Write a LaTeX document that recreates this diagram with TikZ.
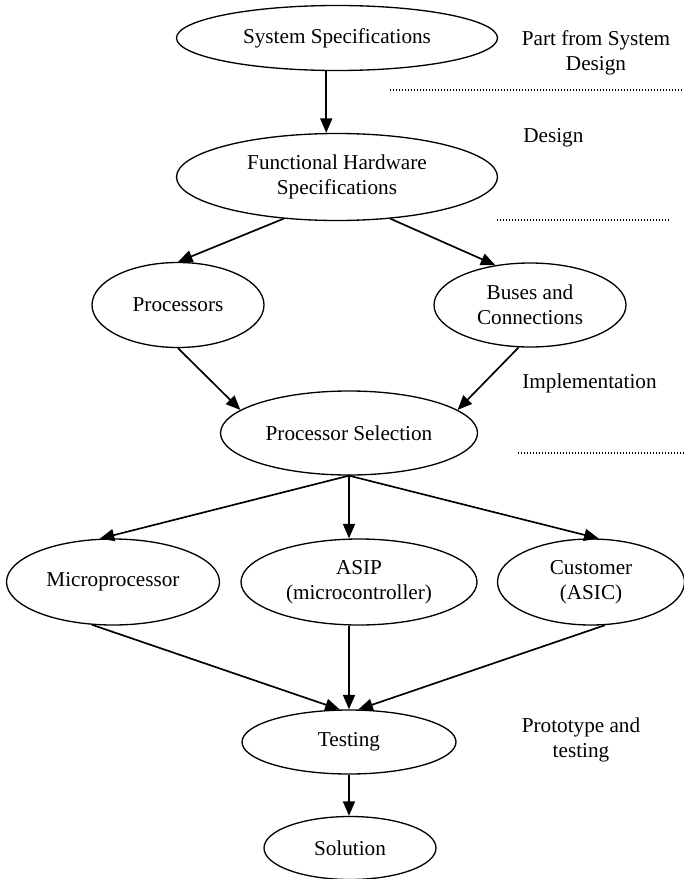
\documentclass[tikz,border=0pt]{standalone}
\usepackage{fontspec}
\setmainfont{Liberation Serif}
\usepackage{tikz}
\usetikzlibrary{shapes.geometric, arrows.meta}
\newcommand{\pxu}{0.566pt}
\tikzstyle{block} = [ellipse, draw=black, line width=0.75pt, inner sep=0pt, align=center, font=\fontsize{12}{14.2}\selectfont]
\tikzstyle{note} = [inner sep=0pt, align=center, font=\fontsize{12}{14.2}\selectfont]
\tikzstyle{arrow} = [line width=0.95pt,-{Triangle[length=8.2pt,width=6.8pt]}]
\tikzstyle{divider} = [line width=0.6pt, dash pattern=on 0.6pt off 1.1pt]

\begin{document}
\begin{tikzpicture}[x=\pxu, y=-\pxu]
\useasboundingbox (0,0) rectangle (684,879);
\node (sys) [block, minimum width=321*\pxu, minimum height=65*\pxu] at (337,38) {System Specifications};
\node (fhs) [block, minimum width=321*\pxu, minimum height=87*\pxu] at (337,177) {Functional Hardware\\Specifications};
\node (proc) [block, minimum width=172*\pxu, minimum height=85*\pxu] at (178,305) {Processors};
\node (bus) [block, minimum width=192*\pxu, minimum height=84*\pxu] at (530,305) {Buses and\\Connections};
\node (psel) [block, minimum width=257*\pxu, minimum height=84*\pxu] at (349,433) {Processor Selection};
\node (micro) [block, minimum width=213*\pxu, minimum height=86*\pxu] at (113,582) {Microprocessor};
\node (asip) [block, minimum width=236*\pxu, minimum height=86*\pxu] at (359,582) {ASIP\\(microcontroller)};
\node (cust) [block, minimum width=187*\pxu, minimum height=86*\pxu] at (591,582) {Customer\\(ASIC)};
\node (test) [block, minimum width=214*\pxu, minimum height=64*\pxu] at (349,742) {Testing};
\node (sol) [block, minimum width=172*\pxu, minimum height=63*\pxu] at (350,848) {Solution};

% phase labels
\node (partsys) [note] at (596,53) {Part from System\\Design};
\node (design) [note, anchor=west] at (523,138) {Design};
\node (impl) [note, anchor=west] at (522,383) {Implementation};
\node (proto) [note] at (581,740) {Prototype and\\testing};

\draw [divider] (390,90) -- (684,90);
\draw [divider] (497,220) -- (670,220);
\draw [divider] (518,453) -- (684,453);

\draw [arrow] (sys.252) -- (sys.252 |- fhs.north);
\draw [arrow] (fhs.218) -- (proc.north);
\draw [arrow] (fhs.322) -- (bus.131);
\draw [arrow] (proc.south) -- (psel.168);
\draw [arrow] (bus.255) -- (psel.12);
\draw [arrow] (psel.south) -- (micro.107);
\draw [arrow] (psel.south) -- (psel.south |- asip.north);
\draw [arrow] (psel.south) -- (cust.80);
\draw [arrow] (micro.244) -- (test.106);
\draw [arrow] (test.north |- asip.south) -- (test.north);
\draw [arrow] (cust.288) -- (test.74);
\draw [arrow] (test.south) -- (test.south |- sol.north);
\end{tikzpicture}
\end{document}
